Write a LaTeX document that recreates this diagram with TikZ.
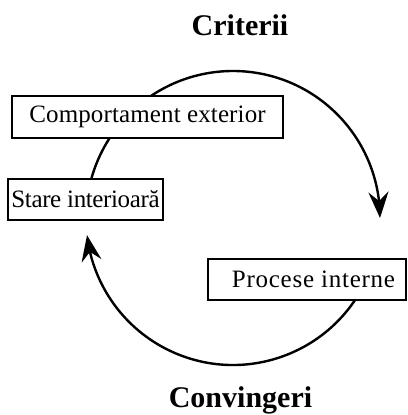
\documentclass[tikz,border=0pt]{standalone}
\usepackage{fontspec}
\setmainfont{Liberation Serif}
\usetikzlibrary{arrows.meta,bending,backgrounds,calc}
\begin{document}
\begin{tikzpicture}[x=1pt,y=1pt,
  box/.style={draw,line width=1.3pt,fill=white,inner sep=0pt,
    font=\fontsize{25}{29}\selectfont},
  cycle/.style={line width=2.4pt},
  tip/.style={-{Stealth[length=26pt,width=20pt,inset=9pt]}},
  title/.style={font=\bfseries\fontsize{30}{34}\selectfont,anchor=base}]
\useasboundingbox (0,0) rectangle (407,415);
\coordinate (c) at (233,197);
\node[box,minimum width=271pt,minimum height=42pt] (ext) at (147.5,298) {\addfontfeatures{LetterSpace=0.5}Comportament exterior};
\node[box,minimum width=155pt,minimum height=41pt] (stare) at (85.5,215.5) {\addfontfeatures{LetterSpace=-1.5}Stare interioară};
\node[box,minimum width=198pt,minimum height=41pt] (proc) at (307,135.5) {\hspace{13pt}\addfontfeatures{LetterSpace=3}Procese interne};
\node[title] (crit) at (240,379) {Criterii};
\node[title] (conv) at (240.5,7) {Convingeri};
\begin{scope}[on background layer]
\draw[cycle,tip] ($(c)+(135:147)$) arc[start angle=135,end angle=0,radius=147];
\draw[cycle] ($(c)+(140:147)$) arc[start angle=140,end angle=170,radius=147];
\draw[cycle,tip] ($(c)+(-25:147)$) arc[start angle=-25,end angle=-173.3,radius=147];
\end{scope}
\end{tikzpicture}
\end{document}
